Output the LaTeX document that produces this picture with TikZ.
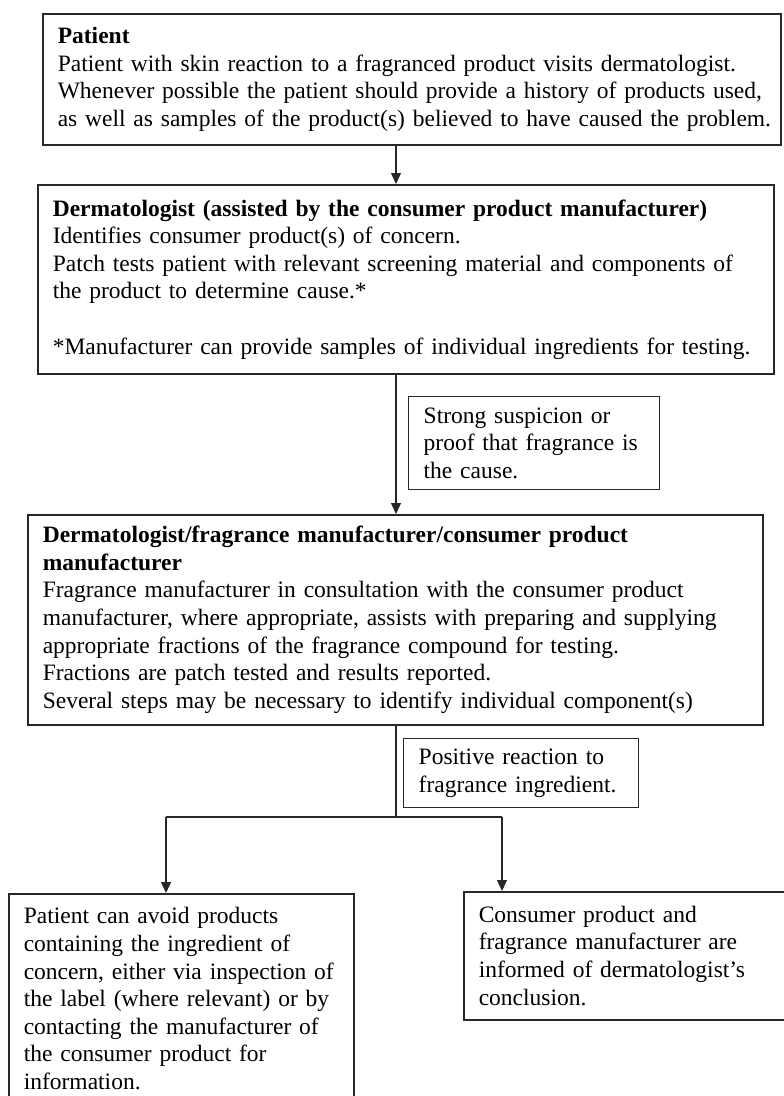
\documentclass[tikz,border=0pt]{standalone}
\usepackage{fontspec}
\setmainfont{Liberation Serif}
\usepackage{xcolor}
\usepackage{tikz}
\usetikzlibrary{positioning,calc,arrows.meta}
\definecolor{FlowInk}{RGB}{40,40,40}
\hyphenpenalty=10000

\begin{document}
\begin{tikzpicture}[x=1pt, y=-1pt,
                % Style for the large step boxes
                stepbox/.style={
                    draw=FlowInk, line width=1.6pt,
                    anchor=north west, align=left,
                    inner xsep=15pt, inner ysep=3pt,
                    font=\fontsize{23.5}{27.6}\selectfont
                },
                % Style for the small condition labels beside the trunk
                condbox/.style={
                    stepbox, line width=1.4pt
                },
                % Style for the connectors
                flow/.style={
                    draw=FlowInk, line width=1.1pt
                },
                flowarrow/.style={
                    flow, -{Triangle[length=11pt,width=10pt]}
                }
            ]
                \useasboundingbox (0,0) rectangle (784,1096);

                % --- 1. Main steps ---
                \node[stepbox, text width=708pt, minimum height=131pt] (patient) at (42,13)
                    {\textbf{Patient}\\
                     \mbox{Patient with skin reaction to a fragranced product visits dermatologist.}\\
                     \mbox{Whenever possible the patient should provide a history of products used,}\\
                     \mbox{as well as samples of the product(s) believed to have caused the problem.}};

                \node[stepbox, text width=706pt, minimum height=189pt] (derm) at (37,184)
                    {\textbf{Dermatologist (assisted by the consumer product manufacturer)}\\
                     Identifies consumer product(s) of concern.\\
                     \mbox{Patch tests patient with relevant screening material and components of}\\
                     the product to determine cause.*\\[27.6pt]
                     \mbox{*Manufacturer can provide samples of individual ingredients for testing.}};

                \node[stepbox, text width=705pt, minimum height=210pt] (fragr) at (27,514)
                    {\textbf{Dermatologist/fragrance manufacturer/consumer product}\\
                     \textbf{manufacturer}\\
                     Fragrance manufacturer in consultation with the consumer product\\
                     \mbox{manufacturer, where appropriate, assists with preparing and supplying}\\
                     appropriate fractions of the fragrance compound for testing.\\
                     Fractions are patch tested and results reported.\\
                     Several steps may be necessary to identify individual component(s)};

                % --- 2. Conditions ---
                \node[condbox, text width=221pt, minimum height=93pt] (cause) at (408,396)
                    {Strong suspicion or\\ \mbox{proof that fragrance is}\\ the cause.};
                \node[condbox, text width=205pt, minimum height=69pt] (positive) at (403,738)
                    {Positive reaction to\\ \mbox{fragrance ingredient.}};

                % --- 3. Outcomes ---
                \node[stepbox, text width=315pt, minimum height=210pt] (avoid) at (8,893)
                    {Patient can avoid products\\
                     containing the ingredient of\\
                     \mbox{concern, either via inspection of}\\
                     \mbox{the label (where relevant) or by}\\
                     \mbox{contacting the manufacturer of}\\
                     the consumer product for\\
                     information.};
                \node[stepbox, text width=310pt, minimum height=128pt] (informed) at (463,891)
                    {Consumer product and\\
                     fragrance manufacturer are\\
                     informed of dermatologist’s\\
                     conclusion.};

                % --- 4. Connectors ---
                \coordinate (trunk) at (396,0);
                \coordinate (split) at (396,817);
                \coordinate (leftdrop) at (166,817);
                \coordinate (rightdrop) at (502,817);

                \draw[flowarrow] (patient.south -| trunk) -- (derm.north -| trunk);
                \draw[flowarrow] (derm.south -| trunk) -- (fragr.north -| trunk);
                \draw[flow] (fragr.south -| trunk) -- (split);
                \draw[flow] (leftdrop) -- (rightdrop);
                \draw[flowarrow] (leftdrop) -- (avoid.north -| leftdrop);
                \draw[flowarrow] (rightdrop) -- (informed.north -| rightdrop);

            \end{tikzpicture}
\end{document}
